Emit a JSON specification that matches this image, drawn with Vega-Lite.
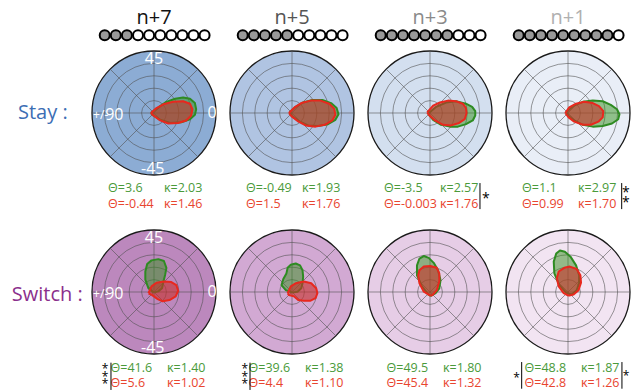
{
"$schema":"https://vega.github.io/schema/vega-lite/v6.json",
"padding":0,
"config":{"view":{"stroke":null},"font":"Open Sans"},
"datasets":{
"stay":[
{"t":"bg","lag":"n+7","k":"s7"},{"t":"bg","lag":"n+5","k":"s5"},{"t":"bg","lag":"n+3","k":"s3"},{"t":"bg","lag":"n+1","k":"s1"},
{"t":"ring","lag":"n+7","r":0.2},{"t":"ring","lag":"n+7","r":0.4},{"t":"ring","lag":"n+7","r":0.6},{"t":"ring","lag":"n+7","r":0.8},
{"t":"ring","lag":"n+5","r":0.2},{"t":"ring","lag":"n+5","r":0.4},{"t":"ring","lag":"n+5","r":0.6},{"t":"ring","lag":"n+5","r":0.8},
{"t":"ring","lag":"n+3","r":0.2},{"t":"ring","lag":"n+3","r":0.4},{"t":"ring","lag":"n+3","r":0.6},{"t":"ring","lag":"n+3","r":0.8},
{"t":"ring","lag":"n+1","r":0.2},{"t":"ring","lag":"n+1","r":0.4},{"t":"ring","lag":"n+1","r":0.6},{"t":"ring","lag":"n+1","r":0.8},
{"t":"sp","lag":"n+7","x":-1,"y":0,"x2":1,"y2":0},{"t":"sp","lag":"n+7","x":0,"y":-1,"x2":0,"y2":1},{"t":"sp","lag":"n+7","x":-0.7071,"y":-0.7071,"x2":0.7071,"y2":0.7071},{"t":"sp","lag":"n+7","x":-0.7071,"y":0.7071,"x2":0.7071,"y2":-0.7071},
{"t":"sp","lag":"n+5","x":-1,"y":0,"x2":1,"y2":0},{"t":"sp","lag":"n+5","x":0,"y":-1,"x2":0,"y2":1},{"t":"sp","lag":"n+5","x":-0.7071,"y":-0.7071,"x2":0.7071,"y2":0.7071},{"t":"sp","lag":"n+5","x":-0.7071,"y":0.7071,"x2":0.7071,"y2":-0.7071},
{"t":"sp","lag":"n+3","x":-1,"y":0,"x2":1,"y2":0},{"t":"sp","lag":"n+3","x":0,"y":-1,"x2":0,"y2":1},{"t":"sp","lag":"n+3","x":-0.7071,"y":-0.7071,"x2":0.7071,"y2":0.7071},{"t":"sp","lag":"n+3","x":-0.7071,"y":0.7071,"x2":0.7071,"y2":-0.7071},
{"t":"sp","lag":"n+1","x":-1,"y":0,"x2":1,"y2":0},{"t":"sp","lag":"n+1","x":0,"y":-1,"x2":0,"y2":1},{"t":"sp","lag":"n+1","x":-0.7071,"y":-0.7071,"x2":0.7071,"y2":0.7071},{"t":"sp","lag":"n+1","x":-0.7071,"y":0.7071,"x2":0.7071,"y2":-0.7071},
{"t":"ti","lag":"n+7","txt":"n+7"},{"t":"ti","lag":"n+5","txt":"n+5"},{"t":"ti","lag":"n+3","txt":"n+3"},{"t":"ti","lag":"n+1","txt":"n+1"},
{"t":"bd","lag":"n+7","x":-0.795,"s":"on"},{"t":"bd","lag":"n+7","x":-0.616,"s":"on"},{"t":"bd","lag":"n+7","x":-0.437,"s":"on"},{"t":"bd","lag":"n+7","x":-0.258,"s":"off"},{"t":"bd","lag":"n+7","x":-0.079,"s":"off"},{"t":"bd","lag":"n+7","x":0.1,"s":"off"},{"t":"bd","lag":"n+7","x":0.279,"s":"off"},{"t":"bd","lag":"n+7","x":0.458,"s":"off"},{"t":"bd","lag":"n+7","x":0.637,"s":"off"},{"t":"bd","lag":"n+7","x":0.816,"s":"off"},
{"t":"bd","lag":"n+5","x":-0.795,"s":"on"},{"t":"bd","lag":"n+5","x":-0.616,"s":"on"},{"t":"bd","lag":"n+5","x":-0.437,"s":"on"},{"t":"bd","lag":"n+5","x":-0.258,"s":"on"},{"t":"bd","lag":"n+5","x":-0.079,"s":"on"},{"t":"bd","lag":"n+5","x":0.1,"s":"off"},{"t":"bd","lag":"n+5","x":0.279,"s":"off"},{"t":"bd","lag":"n+5","x":0.458,"s":"off"},{"t":"bd","lag":"n+5","x":0.637,"s":"off"},{"t":"bd","lag":"n+5","x":0.816,"s":"off"},
{"t":"bd","lag":"n+3","x":-0.795,"s":"on"},{"t":"bd","lag":"n+3","x":-0.616,"s":"on"},{"t":"bd","lag":"n+3","x":-0.437,"s":"on"},{"t":"bd","lag":"n+3","x":-0.258,"s":"on"},{"t":"bd","lag":"n+3","x":-0.079,"s":"on"},{"t":"bd","lag":"n+3","x":0.1,"s":"on"},{"t":"bd","lag":"n+3","x":0.279,"s":"on"},{"t":"bd","lag":"n+3","x":0.458,"s":"off"},{"t":"bd","lag":"n+3","x":0.637,"s":"off"},{"t":"bd","lag":"n+3","x":0.816,"s":"off"},
{"t":"bd","lag":"n+1","x":-0.795,"s":"on"},{"t":"bd","lag":"n+1","x":-0.616,"s":"on"},{"t":"bd","lag":"n+1","x":-0.437,"s":"on"},{"t":"bd","lag":"n+1","x":-0.258,"s":"on"},{"t":"bd","lag":"n+1","x":-0.079,"s":"on"},{"t":"bd","lag":"n+1","x":0.1,"s":"on"},{"t":"bd","lag":"n+1","x":0.279,"s":"on"},{"t":"bd","lag":"n+1","x":0.458,"s":"on"},{"t":"bd","lag":"n+1","x":0.637,"s":"on"},{"t":"bd","lag":"n+1","x":0.816,"s":"off"},
{"t":"st","lag":"n+7","g1":"Θ=3.6","g2":"κ=2.03","r1":"Θ=-0.44","r2":"κ=1.46"},
{"t":"st","lag":"n+5","g1":"Θ=-0.49","g2":"κ=1.93","r1":"Θ=1.5","r2":"κ=1.76"},
{"t":"st","lag":"n+3","g1":"Θ=-3.5","g2":"κ=2.57","r1":"Θ=-0.003","r2":"κ=1.76"},
{"t":"st","lag":"n+1","g1":"Θ=1.1","g2":"κ=2.97","r1":"Θ=0.99","r2":"κ=1.70"},
{"t":"ax","lag":"n+7","txt":"45","x":0,"y":0.87},{"t":"ax","lag":"n+7","txt":"0","x":0.935,"y":0},{"t":"ax","lag":"n+7","txt":"-45","x":-0.02,"y":-0.9},{"t":"ax","lag":"n+7","txt":"90","x":-0.64,"y":-0.03},{"t":"axs","lag":"n+7","txt":"+/-","x":-0.86,"y":-0.03},
{"t":"bar","lag":"n+3","x":0.806,"y":-1.13,"y2":-1.55},{"t":"ast","lag":"n+3","x":0.9,"y":-1.34},
{"t":"bar","lag":"n+1","x":0.866,"y":-1.13,"y2":-1.55},{"t":"ast","lag":"n+1","x":0.935,"y":-1.25},{"t":"ast","lag":"n+1","x":0.935,"y":-1.4},
{"t":"g","lag":"n+7","i":0,"x":-0.05,"y":0},{"t":"g","lag":"n+7","i":1,"x":0.1,"y":0.11},{"t":"g","lag":"n+7","i":2,"x":0.2,"y":0.18},{"t":"g","lag":"n+7","i":3,"x":0.34,"y":0.23},{"t":"g","lag":"n+7","i":4,"x":0.47,"y":0.25},{"t":"g","lag":"n+7","i":5,"x":0.58,"y":0.23},{"t":"g","lag":"n+7","i":6,"x":0.66,"y":0.16},{"t":"g","lag":"n+7","i":7,"x":0.68,"y":0.06},{"t":"g","lag":"n+7","i":8,"x":0.66,"y":-0.03},{"t":"g","lag":"n+7","i":9,"x":0.58,"y":-0.1},{"t":"g","lag":"n+7","i":10,"x":0.44,"y":-0.15},{"t":"g","lag":"n+7","i":11,"x":0.26,"y":-0.16},{"t":"g","lag":"n+7","i":12,"x":0.1,"y":-0.11},{"t":"g","lag":"n+7","i":13,"x":-0.01,"y":-0.04},{"t":"g","lag":"n+7","i":14,"x":-0.05,"y":0},
{"t":"r","lag":"n+7","i":0,"x":-0.05,"y":0},{"t":"r","lag":"n+7","i":1,"x":0.04,"y":0.08},{"t":"r","lag":"n+7","i":2,"x":0.15,"y":0.14},{"t":"r","lag":"n+7","i":3,"x":0.31,"y":0.18},{"t":"r","lag":"n+7","i":4,"x":0.47,"y":0.19},{"t":"r","lag":"n+7","i":5,"x":0.58,"y":0.15},{"t":"r","lag":"n+7","i":6,"x":0.62,"y":0.06},{"t":"r","lag":"n+7","i":7,"x":0.6,"y":-0.04},{"t":"r","lag":"n+7","i":8,"x":0.52,"y":-0.12},{"t":"r","lag":"n+7","i":9,"x":0.39,"y":-0.16},{"t":"r","lag":"n+7","i":10,"x":0.23,"y":-0.17},{"t":"r","lag":"n+7","i":11,"x":0.1,"y":-0.12},{"t":"r","lag":"n+7","i":12,"x":-0.01,"y":-0.04},{"t":"r","lag":"n+7","i":13,"x":-0.05,"y":0},
{"t":"g","lag":"n+5","i":0,"x":-0.04,"y":0.01},{"t":"g","lag":"n+5","i":1,"x":0.06,"y":0.1},{"t":"g","lag":"n+5","i":2,"x":0.18,"y":0.17},{"t":"g","lag":"n+5","i":3,"x":0.33,"y":0.21},{"t":"g","lag":"n+5","i":4,"x":0.49,"y":0.21},{"t":"g","lag":"n+5","i":5,"x":0.63,"y":0.16},{"t":"g","lag":"n+5","i":6,"x":0.72,"y":0.08},{"t":"g","lag":"n+5","i":7,"x":0.75,"y":-0.02},{"t":"g","lag":"n+5","i":8,"x":0.7,"y":-0.11},{"t":"g","lag":"n+5","i":9,"x":0.58,"y":-0.18},{"t":"g","lag":"n+5","i":10,"x":0.42,"y":-0.21},{"t":"g","lag":"n+5","i":11,"x":0.26,"y":-0.2},{"t":"g","lag":"n+5","i":12,"x":0.11,"y":-0.13},{"t":"g","lag":"n+5","i":13,"x":0,"y":-0.05},{"t":"g","lag":"n+5","i":14,"x":-0.04,"y":0.01},
{"t":"r","lag":"n+5","i":0,"x":-0.05,"y":0},{"t":"r","lag":"n+5","i":1,"x":0.04,"y":0.09},{"t":"r","lag":"n+5","i":2,"x":0.15,"y":0.16},{"t":"r","lag":"n+5","i":3,"x":0.3,"y":0.2},{"t":"r","lag":"n+5","i":4,"x":0.46,"y":0.2},{"t":"r","lag":"n+5","i":5,"x":0.6,"y":0.15},{"t":"r","lag":"n+5","i":6,"x":0.68,"y":0.07},{"t":"r","lag":"n+5","i":7,"x":0.7,"y":-0.03},{"t":"r","lag":"n+5","i":8,"x":0.65,"y":-0.12},{"t":"r","lag":"n+5","i":9,"x":0.53,"y":-0.19},{"t":"r","lag":"n+5","i":10,"x":0.38,"y":-0.22},{"t":"r","lag":"n+5","i":11,"x":0.22,"y":-0.2},{"t":"r","lag":"n+5","i":12,"x":0.09,"y":-0.13},{"t":"r","lag":"n+5","i":13,"x":-0.01,"y":-0.05},{"t":"r","lag":"n+5","i":14,"x":-0.05,"y":0},
{"t":"g","lag":"n+3","i":0,"x":-0.03,"y":-0.01},{"t":"g","lag":"n+3","i":1,"x":0.1,"y":0.1},{"t":"g","lag":"n+3","i":2,"x":0.26,"y":0.17},{"t":"g","lag":"n+3","i":3,"x":0.42,"y":0.19},{"t":"g","lag":"n+3","i":4,"x":0.58,"y":0.15},{"t":"g","lag":"n+3","i":5,"x":0.68,"y":0.1},{"t":"g","lag":"n+3","i":6,"x":0.73,"y":0.03},{"t":"g","lag":"n+3","i":7,"x":0.73,"y":-0.04},{"t":"g","lag":"n+3","i":8,"x":0.69,"y":-0.12},{"t":"g","lag":"n+3","i":9,"x":0.58,"y":-0.18},{"t":"g","lag":"n+3","i":10,"x":0.45,"y":-0.22},{"t":"g","lag":"n+3","i":11,"x":0.32,"y":-0.22},{"t":"g","lag":"n+3","i":12,"x":0.18,"y":-0.19},{"t":"g","lag":"n+3","i":13,"x":0.05,"y":-0.11},{"t":"g","lag":"n+3","i":14,"x":-0.03,"y":-0.01},
{"t":"r","lag":"n+3","i":0,"x":-0.045,"y":0.01},{"t":"r","lag":"n+3","i":1,"x":0.05,"y":0.12},{"t":"r","lag":"n+3","i":2,"x":0.16,"y":0.17},{"t":"r","lag":"n+3","i":3,"x":0.29,"y":0.2},{"t":"r","lag":"n+3","i":4,"x":0.42,"y":0.19},{"t":"r","lag":"n+3","i":5,"x":0.53,"y":0.15},{"t":"r","lag":"n+3","i":6,"x":0.58,"y":0.08},{"t":"r","lag":"n+3","i":7,"x":0.59,"y":0},{"t":"r","lag":"n+3","i":8,"x":0.56,"y":-0.1},{"t":"r","lag":"n+3","i":9,"x":0.47,"y":-0.16},{"t":"r","lag":"n+3","i":10,"x":0.34,"y":-0.2},{"t":"r","lag":"n+3","i":11,"x":0.21,"y":-0.19},{"t":"r","lag":"n+3","i":12,"x":0.08,"y":-0.12},{"t":"r","lag":"n+3","i":13,"x":-0.01,"y":-0.04},{"t":"r","lag":"n+3","i":14,"x":-0.045,"y":0.01},
{"t":"g","lag":"n+1","i":0,"x":-0.03,"y":0.01},{"t":"g","lag":"n+1","i":1,"x":0.08,"y":0.11},{"t":"g","lag":"n+1","i":2,"x":0.24,"y":0.18},{"t":"g","lag":"n+1","i":3,"x":0.4,"y":0.2},{"t":"g","lag":"n+1","i":4,"x":0.56,"y":0.19},{"t":"g","lag":"n+1","i":5,"x":0.69,"y":0.13},{"t":"g","lag":"n+1","i":6,"x":0.79,"y":0.06},{"t":"g","lag":"n+1","i":7,"x":0.83,"y":-0.02},{"t":"g","lag":"n+1","i":8,"x":0.81,"y":-0.1},{"t":"g","lag":"n+1","i":9,"x":0.71,"y":-0.17},{"t":"g","lag":"n+1","i":10,"x":0.56,"y":-0.21},{"t":"g","lag":"n+1","i":11,"x":0.4,"y":-0.22},{"t":"g","lag":"n+1","i":12,"x":0.24,"y":-0.19},{"t":"g","lag":"n+1","i":13,"x":0.1,"y":-0.12},{"t":"g","lag":"n+1","i":14,"x":0.01,"y":-0.05},{"t":"g","lag":"n+1","i":15,"x":-0.03,"y":0.01},
{"t":"r","lag":"n+1","i":0,"x":-0.045,"y":0},{"t":"r","lag":"n+1","i":1,"x":0.02,"y":0.09},{"t":"r","lag":"n+1","i":2,"x":0.13,"y":0.15},{"t":"r","lag":"n+1","i":3,"x":0.26,"y":0.18},{"t":"r","lag":"n+1","i":4,"x":0.4,"y":0.16},{"t":"r","lag":"n+1","i":5,"x":0.5,"y":0.11},{"t":"r","lag":"n+1","i":6,"x":0.57,"y":0.03},{"t":"r","lag":"n+1","i":7,"x":0.56,"y":-0.07},{"t":"r","lag":"n+1","i":8,"x":0.49,"y":-0.14},{"t":"r","lag":"n+1","i":9,"x":0.37,"y":-0.19},{"t":"r","lag":"n+1","i":10,"x":0.24,"y":-0.19},{"t":"r","lag":"n+1","i":11,"x":0.1,"y":-0.14},{"t":"r","lag":"n+1","i":12,"x":0.01,"y":-0.07},{"t":"r","lag":"n+1","i":13,"x":-0.045,"y":0}
],
"switch":[
{"t":"bg","lag":"n+7","k":"w7"},{"t":"bg","lag":"n+5","k":"w5"},{"t":"bg","lag":"n+3","k":"w3"},{"t":"bg","lag":"n+1","k":"w1"},
{"t":"ring","lag":"n+7","r":0.2},{"t":"ring","lag":"n+7","r":0.4},{"t":"ring","lag":"n+7","r":0.6},{"t":"ring","lag":"n+7","r":0.8},
{"t":"ring","lag":"n+5","r":0.2},{"t":"ring","lag":"n+5","r":0.4},{"t":"ring","lag":"n+5","r":0.6},{"t":"ring","lag":"n+5","r":0.8},
{"t":"ring","lag":"n+3","r":0.2},{"t":"ring","lag":"n+3","r":0.4},{"t":"ring","lag":"n+3","r":0.6},{"t":"ring","lag":"n+3","r":0.8},
{"t":"ring","lag":"n+1","r":0.2},{"t":"ring","lag":"n+1","r":0.4},{"t":"ring","lag":"n+1","r":0.6},{"t":"ring","lag":"n+1","r":0.8},
{"t":"sp","lag":"n+7","x":-1,"y":0,"x2":1,"y2":0},{"t":"sp","lag":"n+7","x":0,"y":-1,"x2":0,"y2":1},{"t":"sp","lag":"n+7","x":-0.7071,"y":-0.7071,"x2":0.7071,"y2":0.7071},{"t":"sp","lag":"n+7","x":-0.7071,"y":0.7071,"x2":0.7071,"y2":-0.7071},
{"t":"sp","lag":"n+5","x":-1,"y":0,"x2":1,"y2":0},{"t":"sp","lag":"n+5","x":0,"y":-1,"x2":0,"y2":1},{"t":"sp","lag":"n+5","x":-0.7071,"y":-0.7071,"x2":0.7071,"y2":0.7071},{"t":"sp","lag":"n+5","x":-0.7071,"y":0.7071,"x2":0.7071,"y2":-0.7071},
{"t":"sp","lag":"n+3","x":-1,"y":0,"x2":1,"y2":0},{"t":"sp","lag":"n+3","x":0,"y":-1,"x2":0,"y2":1},{"t":"sp","lag":"n+3","x":-0.7071,"y":-0.7071,"x2":0.7071,"y2":0.7071},{"t":"sp","lag":"n+3","x":-0.7071,"y":0.7071,"x2":0.7071,"y2":-0.7071},
{"t":"sp","lag":"n+1","x":-1,"y":0,"x2":1,"y2":0},{"t":"sp","lag":"n+1","x":0,"y":-1,"x2":0,"y2":1},{"t":"sp","lag":"n+1","x":-0.7071,"y":-0.7071,"x2":0.7071,"y2":0.7071},{"t":"sp","lag":"n+1","x":-0.7071,"y":0.7071,"x2":0.7071,"y2":-0.7071},
{"t":"st","lag":"n+7","g1":"Θ=41.6","g2":"κ=1.40","r1":"Θ=5.6","r2":"κ=1.02"},
{"t":"st","lag":"n+5","g1":"Θ=39.6","g2":"κ=1.38","r1":"Θ=4.4","r2":"κ=1.10"},
{"t":"st","lag":"n+3","g1":"Θ=49.5","g2":"κ=1.80","r1":"Θ=45.4","r2":"κ=1.32"},
{"t":"st","lag":"n+1","g1":"Θ=48.8","g2":"κ=1.87","r1":"Θ=42.8","r2":"κ=1.26"},
{"t":"ax","lag":"n+7","txt":"45","x":0,"y":0.87},{"t":"ax","lag":"n+7","txt":"0","x":0.935,"y":0},{"t":"ax","lag":"n+7","txt":"-45","x":-0.02,"y":-0.9},{"t":"ax","lag":"n+7","txt":"90","x":-0.64,"y":-0.03},{"t":"axs","lag":"n+7","txt":"+/-","x":-0.86,"y":-0.03},
{"t":"bar","lag":"n+7","x":-0.694,"y":-1.14,"y2":-1.58},{"t":"ast","lag":"n+7","x":-0.79,"y":-1.2},{"t":"ast","lag":"n+7","x":-0.79,"y":-1.32},{"t":"ast","lag":"n+7","x":-0.79,"y":-1.44},
{"t":"bar","lag":"n+5","x":-0.677,"y":-1.14,"y2":-1.58},{"t":"ast","lag":"n+5","x":-0.76,"y":-1.2},{"t":"ast","lag":"n+5","x":-0.76,"y":-1.32},{"t":"ast","lag":"n+5","x":-0.76,"y":-1.44},
{"t":"bar","lag":"n+1","x":-0.747,"y":-1.13,"y2":-1.56},{"t":"ast","lag":"n+1","x":-0.83,"y":-1.34},
{"t":"bar","lag":"n+1","x":0.87,"y":-1.13,"y2":-1.56},{"t":"ast","lag":"n+1","x":0.935,"y":-1.31},
{"t":"g","lag":"n+7","i":0,"x":-0.01,"y":-0.01},{"t":"g","lag":"n+7","i":1,"x":-0.09,"y":0.06},{"t":"g","lag":"n+7","i":2,"x":-0.14,"y":0.2},{"t":"g","lag":"n+7","i":3,"x":-0.14,"y":0.33},{"t":"g","lag":"n+7","i":4,"x":-0.11,"y":0.45},{"t":"g","lag":"n+7","i":5,"x":-0.04,"y":0.51},{"t":"g","lag":"n+7","i":6,"x":0.07,"y":0.53},{"t":"g","lag":"n+7","i":7,"x":0.16,"y":0.5},{"t":"g","lag":"n+7","i":8,"x":0.2,"y":0.39},{"t":"g","lag":"n+7","i":9,"x":0.18,"y":0.28},{"t":"g","lag":"n+7","i":10,"x":0.15,"y":0.16},{"t":"g","lag":"n+7","i":11,"x":0.13,"y":0.06},{"t":"g","lag":"n+7","i":12,"x":0.07,"y":0.01},{"t":"g","lag":"n+7","i":13,"x":-0.01,"y":-0.01},
{"t":"r","lag":"n+7","i":0,"x":-0.09,"y":-0.02},{"t":"r","lag":"n+7","i":1,"x":-0.04,"y":0.09},{"t":"r","lag":"n+7","i":2,"x":0.04,"y":0.15},{"t":"r","lag":"n+7","i":3,"x":0.16,"y":0.17},{"t":"r","lag":"n+7","i":4,"x":0.28,"y":0.16},{"t":"r","lag":"n+7","i":5,"x":0.36,"y":0.11},{"t":"r","lag":"n+7","i":6,"x":0.39,"y":0.02},{"t":"r","lag":"n+7","i":7,"x":0.35,"y":-0.07},{"t":"r","lag":"n+7","i":8,"x":0.25,"y":-0.13},{"t":"r","lag":"n+7","i":9,"x":0.14,"y":-0.15},{"t":"r","lag":"n+7","i":10,"x":0.05,"y":-0.11},{"t":"r","lag":"n+7","i":11,"x":-0.03,"y":-0.05},{"t":"r","lag":"n+7","i":12,"x":-0.09,"y":-0.02},
{"t":"g","lag":"n+5","i":0,"x":0.005,"y":-0.01},{"t":"g","lag":"n+5","i":1,"x":-0.1,"y":0.03},{"t":"g","lag":"n+5","i":2,"x":-0.17,"y":0.11},{"t":"g","lag":"n+5","i":3,"x":-0.14,"y":0.21},{"t":"g","lag":"n+5","i":4,"x":-0.09,"y":0.3},{"t":"g","lag":"n+5","i":5,"x":-0.07,"y":0.39},{"t":"g","lag":"n+5","i":6,"x":-0.02,"y":0.44},{"t":"g","lag":"n+5","i":7,"x":0.06,"y":0.46},{"t":"g","lag":"n+5","i":8,"x":0.13,"y":0.43},{"t":"g","lag":"n+5","i":9,"x":0.17,"y":0.35},{"t":"g","lag":"n+5","i":10,"x":0.18,"y":0.25},{"t":"g","lag":"n+5","i":11,"x":0.17,"y":0.14},{"t":"g","lag":"n+5","i":12,"x":0.15,"y":0.06},{"t":"g","lag":"n+5","i":13,"x":0.09,"y":0.005},{"t":"g","lag":"n+5","i":14,"x":0.005,"y":-0.01},
{"t":"r","lag":"n+5","i":0,"x":-0.07,"y":-0.02},{"t":"r","lag":"n+5","i":1,"x":-0.02,"y":0.09},{"t":"r","lag":"n+5","i":2,"x":0.06,"y":0.14},{"t":"r","lag":"n+5","i":3,"x":0.19,"y":0.17},{"t":"r","lag":"n+5","i":4,"x":0.31,"y":0.14},{"t":"r","lag":"n+5","i":5,"x":0.39,"y":0.06},{"t":"r","lag":"n+5","i":6,"x":0.41,"y":-0.02},{"t":"r","lag":"n+5","i":7,"x":0.38,"y":-0.1},{"t":"r","lag":"n+5","i":8,"x":0.3,"y":-0.14},{"t":"r","lag":"n+5","i":9,"x":0.19,"y":-0.14},{"t":"r","lag":"n+5","i":10,"x":0.1,"y":-0.13},{"t":"r","lag":"n+5","i":11,"x":0.03,"y":-0.07},{"t":"r","lag":"n+5","i":12,"x":-0.05,"y":-0.05},{"t":"r","lag":"n+5","i":13,"x":-0.07,"y":-0.02},
{"t":"g","lag":"n+3","i":0,"x":-0.02,"y":-0.05},{"t":"g","lag":"n+3","i":1,"x":-0.13,"y":0.09},{"t":"g","lag":"n+3","i":2,"x":-0.21,"y":0.27},{"t":"g","lag":"n+3","i":3,"x":-0.21,"y":0.43},{"t":"g","lag":"n+3","i":4,"x":-0.17,"y":0.54},{"t":"g","lag":"n+3","i":5,"x":-0.1,"y":0.58},{"t":"g","lag":"n+3","i":6,"x":-0.02,"y":0.55},{"t":"g","lag":"n+3","i":7,"x":0.06,"y":0.47},{"t":"g","lag":"n+3","i":8,"x":0.13,"y":0.35},{"t":"g","lag":"n+3","i":9,"x":0.17,"y":0.19},{"t":"g","lag":"n+3","i":10,"x":0.15,"y":0.06},{"t":"g","lag":"n+3","i":11,"x":0.09,"y":-0.02},{"t":"g","lag":"n+3","i":12,"x":0.02,"y":-0.06},{"t":"g","lag":"n+3","i":13,"x":-0.02,"y":-0.05},
{"t":"r","lag":"n+3","i":0,"x":0.005,"y":-0.06},{"t":"r","lag":"n+3","i":1,"x":-0.1,"y":0.005},{"t":"r","lag":"n+3","i":2,"x":-0.17,"y":0.14},{"t":"r","lag":"n+3","i":3,"x":-0.19,"y":0.27},{"t":"r","lag":"n+3","i":4,"x":-0.17,"y":0.35},{"t":"r","lag":"n+3","i":5,"x":-0.1,"y":0.41},{"t":"r","lag":"n+3","i":6,"x":0.005,"y":0.42},{"t":"r","lag":"n+3","i":7,"x":0.11,"y":0.39},{"t":"r","lag":"n+3","i":8,"x":0.15,"y":0.3},{"t":"r","lag":"n+3","i":9,"x":0.15,"y":0.17},{"t":"r","lag":"n+3","i":10,"x":0.11,"y":0.03},{"t":"r","lag":"n+3","i":11,"x":0.04,"y":-0.05},{"t":"r","lag":"n+3","i":12,"x":0.005,"y":-0.06},
{"t":"g","lag":"n+1","i":0,"x":-0.02,"y":-0.02},{"t":"g","lag":"n+1","i":1,"x":-0.14,"y":0.11},{"t":"g","lag":"n+1","i":2,"x":-0.22,"y":0.3},{"t":"g","lag":"n+1","i":3,"x":-0.23,"y":0.49},{"t":"g","lag":"n+1","i":4,"x":-0.19,"y":0.62},{"t":"g","lag":"n+1","i":5,"x":-0.13,"y":0.67},{"t":"g","lag":"n+1","i":6,"x":-0.05,"y":0.65},{"t":"g","lag":"n+1","i":7,"x":0.04,"y":0.57},{"t":"g","lag":"n+1","i":8,"x":0.13,"y":0.43},{"t":"g","lag":"n+1","i":9,"x":0.18,"y":0.27},{"t":"g","lag":"n+1","i":10,"x":0.18,"y":0.14},{"t":"g","lag":"n+1","i":11,"x":0.14,"y":0.03},{"t":"g","lag":"n+1","i":12,"x":0.06,"y":-0.04},{"t":"g","lag":"n+1","i":13,"x":-0.02,"y":-0.02},
{"t":"r","lag":"n+1","i":0,"x":0.005,"y":-0.06},{"t":"r","lag":"n+1","i":1,"x":-0.07,"y":-0.02},{"t":"r","lag":"n+1","i":2,"x":-0.15,"y":0.09},{"t":"r","lag":"n+1","i":3,"x":-0.18,"y":0.22},{"t":"r","lag":"n+1","i":4,"x":-0.15,"y":0.33},{"t":"r","lag":"n+1","i":5,"x":-0.06,"y":0.39},{"t":"r","lag":"n+1","i":6,"x":0.03,"y":0.41},{"t":"r","lag":"n+1","i":7,"x":0.14,"y":0.37},{"t":"r","lag":"n+1","i":8,"x":0.2,"y":0.27},{"t":"r","lag":"n+1","i":9,"x":0.21,"y":0.15},{"t":"r","lag":"n+1","i":10,"x":0.17,"y":0.03},{"t":"r","lag":"n+1","i":11,"x":0.09,"y":-0.04},{"t":"r","lag":"n+1","i":12,"x":0.005,"y":-0.06}
]
},
"vconcat":[
{"hconcat":[
 {"width":85,"height":212,"data":{"values":[{"txt":"Stay :"}]},
  "mark":{"type":"text","align":"left","baseline":"middle","fontSize":20,"font":"Open Sans","color":"#3c6eb4"},
  "encoding":{"text":{"field":"txt"},
   "x":{"datum":0.29,"type":"quantitative","scale":{"domain":[0,1.371],"nice":false,"zero":false},"axis":null},
   "y":{"datum":0,"type":"quantitative","scale":{"domain":[-1.5968,1.8226],"nice":false,"zero":false},"axis":null}}},
 {"data":{"name":"stay"},
  "facet":{"column":{"field":"lag","type":"nominal","sort":["n+7","n+5","n+3","n+1"],"header":null}},
  "spacing":0,
  "spec":{"width":138,"height":212,"layer":[
   {"transform":[{"filter":"datum.t==='bg'"}],"mark":{"type":"point","shape":"circle","filled":true,"size":15376,"stroke":"#1a1a1a","strokeWidth":1.3,"opacity":1},
    "encoding":{"x":{"datum":0,"type":"quantitative","scale":{"domain":[-1.1129,1.1129],"nice":false,"zero":false},"axis":null},
     "y":{"datum":0,"type":"quantitative","scale":{"domain":[-1.5968,1.8226],"nice":false,"zero":false},"axis":null},
     "fill":{"field":"k","type":"nominal","scale":{"domain":["s7","s5","s3","s1","w7","w5","w3","w1"],"range":["#8cacd4","#b0c4e2","#d3dfef","#e9eef7","#bc88bd","#d2a9d3","#e6cde6","#f2e4f2"]},"legend":null}}},
   {"transform":[{"filter":"datum.t==='ring'"}],"mark":{"type":"point","shape":"circle","filled":false,"stroke":"#505050","strokeWidth":0.9,"strokeOpacity":0.65,"opacity":1},
    "encoding":{"x":{"datum":0,"type":"quantitative","axis":null},"y":{"datum":0,"type":"quantitative","axis":null},
     "size":{"field":"r","type":"quantitative","scale":{"type":"pow","exponent":2,"domain":[0,1],"range":[0,15376]},"legend":null}}},
   {"transform":[{"filter":"datum.t==='sp'"}],"mark":{"type":"rule","stroke":"#505050","strokeWidth":0.9,"strokeOpacity":0.65},
    "encoding":{"x":{"field":"x","type":"quantitative","axis":null},"y":{"field":"y","type":"quantitative","axis":null},"x2":{"field":"x2"},"y2":{"field":"y2"}}},
   {"transform":[{"filter":"datum.t==='g'"}],"mark":{"type":"line","fill":"#35901d","fillOpacity":0.5,"stroke":"#2e8b22","strokeWidth":2,"strokeJoin":"round"},
    "encoding":{"x":{"field":"x","type":"quantitative","axis":null},"y":{"field":"y","type":"quantitative","axis":null},"order":{"field":"i","type":"quantitative"}}},
   {"transform":[{"filter":"datum.t==='r'"}],"mark":{"type":"line","fill":"#c8302a","fillOpacity":0.6,"stroke":"#e8281e","strokeWidth":2,"strokeJoin":"round"},
    "encoding":{"x":{"field":"x","type":"quantitative","axis":null},"y":{"field":"y","type":"quantitative","axis":null},"order":{"field":"i","type":"quantitative"}}},
   {"transform":[{"filter":"datum.t==='ax'"}],"mark":{"type":"text","fontSize":16,"font":"Open Sans","color":"#ffffff","baseline":"middle","align":"center"},
    "encoding":{"x":{"field":"x","type":"quantitative","axis":null},"y":{"field":"y","type":"quantitative","axis":null},"text":{"field":"txt"}}},
   {"transform":[{"filter":"datum.t==='axs'"}],"mark":{"type":"text","fontSize":12,"font":"Open Sans","color":"#ffffff","baseline":"middle","align":"center"},
    "encoding":{"x":{"field":"x","type":"quantitative","axis":null},"y":{"field":"y","type":"quantitative","axis":null},"text":{"field":"txt"}}},
   {"transform":[{"filter":"datum.t==='ti'"}],"mark":{"type":"text","fontSize":20,"font":"Open Sans","baseline":"middle","align":"center"},
    "encoding":{"x":{"datum":0,"type":"quantitative","axis":null},"y":{"datum":1.54,"type":"quantitative","axis":null},"text":{"field":"txt"},
     "color":{"field":"lag","type":"nominal","scale":{"domain":["n+7","n+5","n+3","n+1"],"range":["#111111","#555555","#8a8a8a","#b0b0b0"]},"legend":null}}},
   {"transform":[{"filter":"datum.t==='bd' && datum.s==='on'"}],"mark":{"type":"point","shape":"circle","filled":true,"size":100,"fill":"#999999","stroke":"#000000","strokeWidth":2,"opacity":1},
    "encoding":{"x":{"field":"x","type":"quantitative","axis":null},"y":{"datum":1.253,"type":"quantitative","axis":null}}},
   {"transform":[{"filter":"datum.t==='bd' && datum.s==='off'"}],"mark":{"type":"point","shape":"circle","filled":true,"size":100,"fill":"#ffffff","stroke":"#000000","strokeWidth":2,"opacity":1},
    "encoding":{"x":{"field":"x","type":"quantitative","axis":null},"y":{"datum":1.253,"type":"quantitative","axis":null}}},
   {"transform":[{"filter":"datum.t==='st'"}],"mark":{"type":"text","fontSize":12.5,"font":"Open Sans","align":"left","baseline":"middle","color":"#4a9a3a"},
    "encoding":{"x":{"datum":-0.74,"type":"quantitative","axis":null},"y":{"datum":-1.215,"type":"quantitative","axis":null},"text":{"field":"g1"}}},
   {"transform":[{"filter":"datum.t==='st'"}],"mark":{"type":"text","fontSize":12.5,"font":"Open Sans","align":"left","baseline":"middle","color":"#4a9a3a"},
    "encoding":{"x":{"datum":0.16,"type":"quantitative","axis":null},"y":{"datum":-1.215,"type":"quantitative","axis":null},"text":{"field":"g2"}}},
   {"transform":[{"filter":"datum.t==='st'"}],"mark":{"type":"text","fontSize":12.5,"font":"Open Sans","align":"left","baseline":"middle","color":"#e8452f"},
    "encoding":{"x":{"datum":-0.74,"type":"quantitative","axis":null},"y":{"datum":-1.475,"type":"quantitative","axis":null},"text":{"field":"r1"}}},
   {"transform":[{"filter":"datum.t==='st'"}],"mark":{"type":"text","fontSize":12.5,"font":"Open Sans","align":"left","baseline":"middle","color":"#e8452f"},
    "encoding":{"x":{"datum":0.16,"type":"quantitative","axis":null},"y":{"datum":-1.475,"type":"quantitative","axis":null},"text":{"field":"r2"}}},
   {"transform":[{"filter":"datum.t==='bar'"}],"mark":{"type":"rule","stroke":"#000000","strokeWidth":1},
    "encoding":{"x":{"field":"x","type":"quantitative","axis":null},"y":{"field":"y","type":"quantitative","axis":null},"y2":{"field":"y2"}}},
   {"transform":[{"filter":"datum.t==='ast'"}],"mark":{"type":"text","text":"*","fontSize":14,"font":"Open Sans","align":"center","baseline":"middle","dy":3,"color":"#000000"},
    "encoding":{"x":{"field":"x","type":"quantitative","axis":null},"y":{"field":"y","type":"quantitative","axis":null}}}
  ]}}
 ],"spacing":0,"resolve":{"scale":{"x":"independent","y":"independent"}}},
{"hconcat":[
 {"width":85,"height":179,"data":{"values":[{"txt":"Switch :"}]},
  "mark":{"type":"text","align":"left","baseline":"middle","fontSize":20,"font":"Open Sans","color":"#8b2f8c"},
  "encoding":{"text":{"field":"txt"},
   "x":{"datum":0.19,"type":"quantitative","scale":{"domain":[0,1.371],"nice":false,"zero":false},"axis":null},
   "y":{"datum":-0.05,"type":"quantitative","scale":{"domain":[-1.5968,1.2903],"nice":false,"zero":false},"axis":null}}},
 {"data":{"name":"switch"},
  "facet":{"column":{"field":"lag","type":"nominal","sort":["n+7","n+5","n+3","n+1"],"header":null}},
  "spacing":0,
  "spec":{"width":138,"height":179,"layer":[
   {"transform":[{"filter":"datum.t==='bg'"}],"mark":{"type":"point","shape":"circle","filled":true,"size":15376,"stroke":"#1a1a1a","strokeWidth":1.3,"opacity":1},
    "encoding":{"x":{"datum":0,"type":"quantitative","scale":{"domain":[-1.1129,1.1129],"nice":false,"zero":false},"axis":null},
     "y":{"datum":0,"type":"quantitative","scale":{"domain":[-1.5968,1.2903],"nice":false,"zero":false},"axis":null},
     "fill":{"field":"k","type":"nominal","scale":{"domain":["s7","s5","s3","s1","w7","w5","w3","w1"],"range":["#8cacd4","#b0c4e2","#d3dfef","#e9eef7","#bc88bd","#d2a9d3","#e6cde6","#f2e4f2"]},"legend":null}}},
   {"transform":[{"filter":"datum.t==='ring'"}],"mark":{"type":"point","shape":"circle","filled":false,"stroke":"#505050","strokeWidth":0.9,"strokeOpacity":0.65,"opacity":1},
    "encoding":{"x":{"datum":0,"type":"quantitative","axis":null},"y":{"datum":0,"type":"quantitative","axis":null},
     "size":{"field":"r","type":"quantitative","scale":{"type":"pow","exponent":2,"domain":[0,1],"range":[0,15376]},"legend":null}}},
   {"transform":[{"filter":"datum.t==='sp'"}],"mark":{"type":"rule","stroke":"#505050","strokeWidth":0.9,"strokeOpacity":0.65},
    "encoding":{"x":{"field":"x","type":"quantitative","axis":null},"y":{"field":"y","type":"quantitative","axis":null},"x2":{"field":"x2"},"y2":{"field":"y2"}}},
   {"transform":[{"filter":"datum.t==='g'"}],"mark":{"type":"line","fill":"#35901d","fillOpacity":0.5,"stroke":"#2e8b22","strokeWidth":2,"strokeJoin":"round"},
    "encoding":{"x":{"field":"x","type":"quantitative","axis":null},"y":{"field":"y","type":"quantitative","axis":null},"order":{"field":"i","type":"quantitative"}}},
   {"transform":[{"filter":"datum.t==='r'"}],"mark":{"type":"line","fill":"#c8302a","fillOpacity":0.6,"stroke":"#e8281e","strokeWidth":2,"strokeJoin":"round"},
    "encoding":{"x":{"field":"x","type":"quantitative","axis":null},"y":{"field":"y","type":"quantitative","axis":null},"order":{"field":"i","type":"quantitative"}}},
   {"transform":[{"filter":"datum.t==='ax'"}],"mark":{"type":"text","fontSize":16,"font":"Open Sans","color":"#ffffff","baseline":"middle","align":"center"},
    "encoding":{"x":{"field":"x","type":"quantitative","axis":null},"y":{"field":"y","type":"quantitative","axis":null},"text":{"field":"txt"}}},
   {"transform":[{"filter":"datum.t==='axs'"}],"mark":{"type":"text","fontSize":12,"font":"Open Sans","color":"#ffffff","baseline":"middle","align":"center"},
    "encoding":{"x":{"field":"x","type":"quantitative","axis":null},"y":{"field":"y","type":"quantitative","axis":null},"text":{"field":"txt"}}},
   {"transform":[{"filter":"datum.t==='st'"}],"mark":{"type":"text","fontSize":12.5,"font":"Open Sans","align":"left","baseline":"middle","color":"#4a9a3a"},
    "encoding":{"x":{"datum":-0.7,"type":"quantitative","axis":null},"y":{"datum":-1.225,"type":"quantitative","axis":null},"text":{"field":"g1"}}},
   {"transform":[{"filter":"datum.t==='st'"}],"mark":{"type":"text","fontSize":12.5,"font":"Open Sans","align":"left","baseline":"middle","color":"#4a9a3a"},
    "encoding":{"x":{"datum":0.21,"type":"quantitative","axis":null},"y":{"datum":-1.225,"type":"quantitative","axis":null},"text":{"field":"g2"}}},
   {"transform":[{"filter":"datum.t==='st'"}],"mark":{"type":"text","fontSize":12.5,"font":"Open Sans","align":"left","baseline":"middle","color":"#e8452f"},
    "encoding":{"x":{"datum":-0.7,"type":"quantitative","axis":null},"y":{"datum":-1.475,"type":"quantitative","axis":null},"text":{"field":"r1"}}},
   {"transform":[{"filter":"datum.t==='st'"}],"mark":{"type":"text","fontSize":12.5,"font":"Open Sans","align":"left","baseline":"middle","color":"#e8452f"},
    "encoding":{"x":{"datum":0.21,"type":"quantitative","axis":null},"y":{"datum":-1.475,"type":"quantitative","axis":null},"text":{"field":"r2"}}},
   {"transform":[{"filter":"datum.t==='bar'"}],"mark":{"type":"rule","stroke":"#000000","strokeWidth":1},
    "encoding":{"x":{"field":"x","type":"quantitative","axis":null},"y":{"field":"y","type":"quantitative","axis":null},"y2":{"field":"y2"}}},
   {"transform":[{"filter":"datum.t==='ast'"}],"mark":{"type":"text","text":"*","fontSize":12,"font":"Open Sans","align":"center","baseline":"middle","dy":3,"color":"#000000"},
    "encoding":{"x":{"field":"x","type":"quantitative","axis":null},"y":{"field":"y","type":"quantitative","axis":null}}}
  ]}}
 ],"spacing":0,"resolve":{"scale":{"x":"independent","y":"independent"}}}
],
"spacing":0,
"resolve":{"scale":{"x":"independent","y":"independent","fill":"independent","color":"independent","size":"independent"}}
}
